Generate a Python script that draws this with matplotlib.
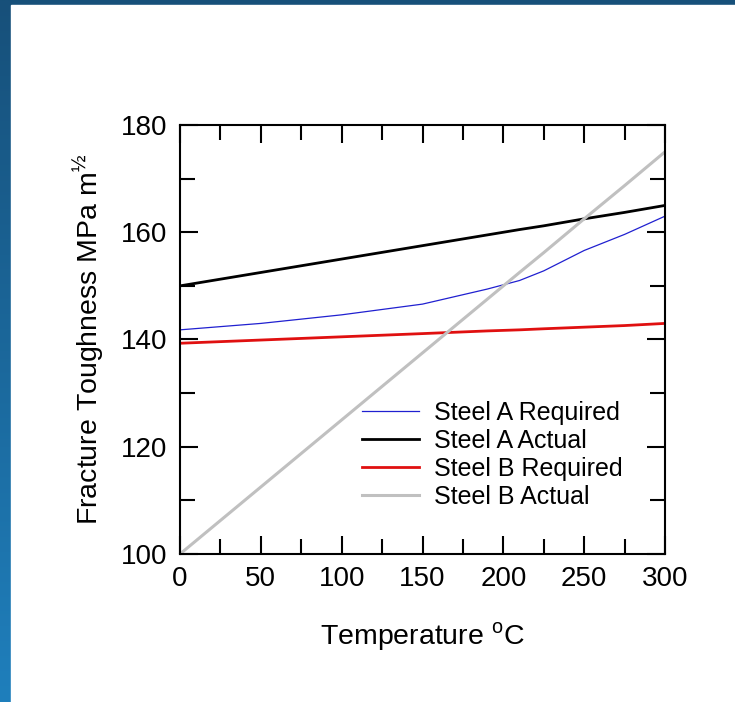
import matplotlib
matplotlib.use("Agg")
import matplotlib.pyplot as plt
import numpy as np
from matplotlib.ticker import MultipleLocator

plt.rcParams["font.family"] = ["Liberation Sans", "DejaVu Sans"]
plt.rcParams["mathtext.fontset"] = "custom"
plt.rcParams["mathtext.rm"] = "Liberation Sans"

# temperatures (deg C) and toughness values (MPa m^1/2)
temp = [0, 50, 100, 150, 190, 210, 225, 250, 275, 300]
steel_a_required = [141.8, 143.0, 144.6, 146.6, 149.4, 151.0, 152.8, 156.6, 159.6, 163.0]
steel_a_actual = [150.0, 152.5, 155.0, 157.5, 159.5, 160.5, 161.2, 162.5, 163.7, 165.0]
steel_b_required = [139.3, 139.9, 140.5, 141.1, 141.6, 141.8, 142.0, 142.3, 142.6, 143.0]
steel_b_actual = [100.0, 112.5, 125.0, 137.5, 147.5, 152.5, 156.2, 162.5, 168.7, 175.0]

fig = plt.figure(figsize=(7.35, 7.02), dpi=100)

# dark blue slide border on the left and top edges
bg = fig.add_axes([0, 0, 1, 1], zorder=-10)
bg.set_axis_off()
grad = np.linspace(0, 1, 256)[:, None]
cmap = matplotlib.colors.LinearSegmentedColormap.from_list("edge", ["#1f7fbc", "#17507a"])
bg.imshow(grad, cmap=cmap, aspect="auto", extent=[0, 1, 0, 1], origin="lower")
bg.add_patch(plt.Rectangle((11 / 735, 0), 1, 1 - 5 / 702, color="white", transform=bg.transAxes))
bg.set_xlim(0, 1)
bg.set_ylim(0, 1)

ax = fig.add_axes([180 / 735, 148 / 702, 485 / 735, 429 / 702])
ax.plot(temp, steel_a_required, color="#2020d0", lw=0.9, label="Steel A Required")
ax.plot(temp, steel_a_actual, color="black", lw=2.0, label="Steel A Actual")
ax.plot(temp, steel_b_required, color="#e01010", lw=2.0, label="Steel B Required")
ax.plot(temp, steel_b_actual, color="#c0c0c0", lw=2.2, label="Steel B Actual")

ax.set_xlim(0, 300)
ax.set_ylim(100, 180)
ax.xaxis.set_major_locator(MultipleLocator(50))
ax.xaxis.set_minor_locator(MultipleLocator(25))
ax.yaxis.set_major_locator(MultipleLocator(20))
ax.yaxis.set_minor_locator(MultipleLocator(10))
ax.tick_params(which="both", direction="in", top=True, right=True, width=1.5, labelsize=20)
ax.tick_params(which="major", length=13, pad=9)
ax.tick_params(which="minor", length=11)
for s in ax.spines.values():
    s.set_linewidth(1.5)

ax.set_xlabel(r"Temperature $^{\mathrm{o}}$C", fontsize=20.5, labelpad=20)
ax.set_ylabel(r"Fracture Toughness MPa m$^{½}$", fontsize=20.5, labelpad=10)

ax.legend(loc="lower left", bbox_to_anchor=(0.375, 0.105), frameon=False, fontsize=18,
          handlelength=2.3, labelspacing=0.16, handletextpad=0.6,
          borderpad=0, borderaxespad=0)

fig.savefig("out.png", dpi=100)
